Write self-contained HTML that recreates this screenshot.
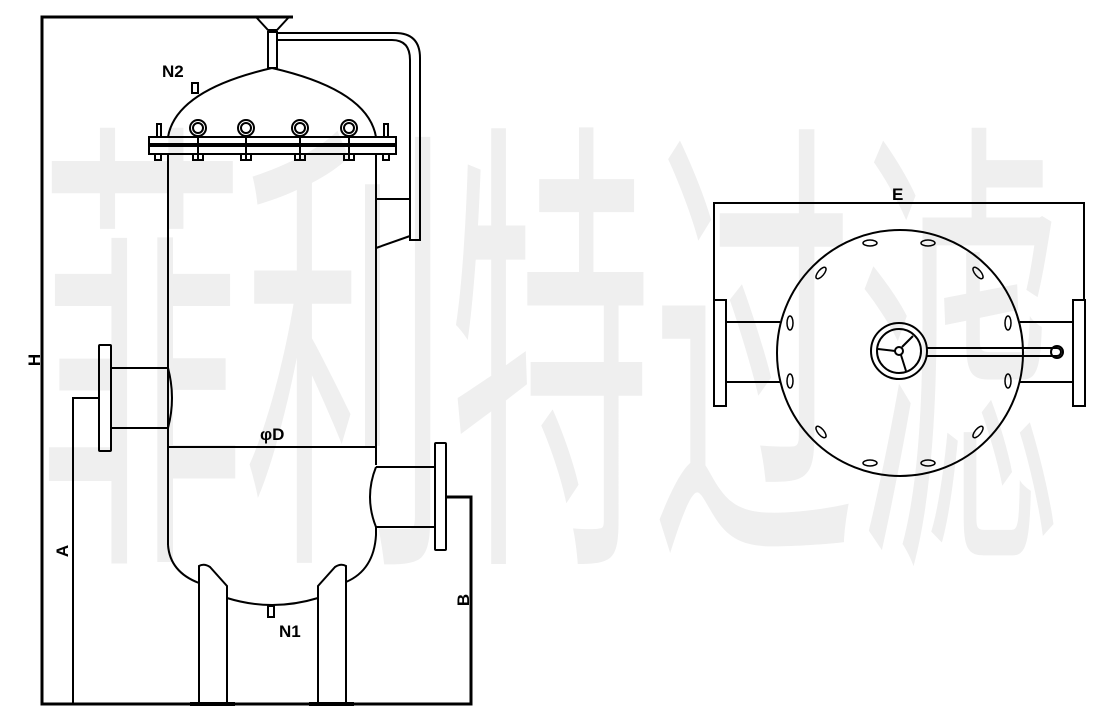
<!DOCTYPE html>
<html><head><meta charset="utf-8"><style>html,body{margin:0;padding:0;background:#fff}svg{display:block}</style></head>
<body>
<svg width="1100" height="721" viewBox="0 0 1100 721" xmlns="http://www.w3.org/2000/svg" font-family="Liberation Sans, sans-serif">
<text x="40" y="526" font-size="474" fill="#efefef" textLength="1020" lengthAdjust="spacingAndGlyphs" font-family="Liberation Sans, Noto Sans CJK SC, sans-serif">菲利特过滤</text>
<g fill="none" stroke="#000" stroke-width="2">
<polyline points="293,17 42,17 42,704 471,704 471,497 446,497" stroke-width="3"/>
<polyline points="73,704 73,398 99,398"/>
<rect x="99" y="345" width="12" height="106" rx="1"/>
<line x1="111" y1="368" x2="168" y2="368"/><line x1="111" y1="428" x2="168" y2="428"/>
<path d="M168,368 Q176,398 168,428"/>
<line x1="168" y1="153" x2="168" y2="545"/>
<line x1="376" y1="153" x2="376" y2="465"/>
<line x1="376" y1="527" x2="376" y2="535"/>
<line x1="168" y1="447" x2="376" y2="447"/>
<path d="M168,545 Q170,572 199,583"/>
<path d="M376,535 Q374,570 346,582"/>
<path d="M227,598 Q272,612 318,598"/>
<rect x="268" y="606" width="6" height="11"/>
<path d="M199,704 L199,566 Q204,563 210,567 L227,586 L227,704"/>
<path d="M346,704 L346,566 Q341,563 335,567 L318,586 L318,704"/>
<line x1="190" y1="704" x2="235" y2="704" stroke-width="4"/>
<line x1="309" y1="704" x2="354" y2="704" stroke-width="4"/>
<line x1="376" y1="467" x2="435" y2="467"/><line x1="376" y1="527" x2="435" y2="527"/>
<path d="M376,467 Q364,497 376,527"/>
<rect x="435" y="443" width="11" height="107" rx="1"/>
<path d="M168,137 Q176,90 272,68 Q368,90 376,137"/>
<rect x="192" y="83" width="6" height="10"/>
<rect x="149" y="137" width="247" height="17"/>
<line x1="149" y1="145" x2="396" y2="145" stroke-width="4"/>
<g>
<circle cx="198" cy="128" r="8"/><circle cx="198" cy="128" r="5"/><line x1="198" y1="136" x2="198" y2="160"/>
<circle cx="246" cy="128" r="8"/><circle cx="246" cy="128" r="5"/><line x1="246" y1="136" x2="246" y2="160"/>
<circle cx="300" cy="128" r="8"/><circle cx="300" cy="128" r="5"/><line x1="300" y1="136" x2="300" y2="160"/>
<circle cx="349" cy="128" r="8"/><circle cx="349" cy="128" r="5"/><line x1="349" y1="136" x2="349" y2="160"/>
<rect x="157" y="124" width="4" height="13"/><rect x="384" y="124" width="4" height="13"/>
<path d="M155,154 v6 h6 v-6 M193,154 v6 h10 v-6 M241,154 v6 h10 v-6 M295,154 v6 h10 v-6 M344,154 v6 h10 v-6 M383,154 v6 h6 v-6"/>
</g>
<rect x="268" y="32" width="9" height="36"/>
<path d="M256,17 L268,30 L277,30 L289,17"/>
<path d="M277,33 L395,33 Q420,33 420,58 L420,240 L410,240 L410,60 Q410,40 392,40 L277,40"/>
<line x1="376" y1="199" x2="410" y2="199"/>
<line x1="376" y1="248" x2="410" y2="236"/>
<polyline points="714,300 714,203 1084,203 1084,300"/>
<rect x="714" y="300" width="12" height="106"/>
<rect x="1073" y="300" width="12" height="106"/>
<line x1="726" y1="322" x2="780" y2="322"/><line x1="726" y1="382" x2="780" y2="382"/>
<line x1="1020" y1="322" x2="1073" y2="322"/><line x1="1020" y1="382" x2="1073" y2="382"/>
<circle cx="900" cy="353" r="123"/>
<circle cx="899" cy="351" r="28"/><circle cx="899" cy="351" r="22"/><circle cx="899" cy="351" r="4"/>
<line x1="895" y1="351" x2="878" y2="349"/><line x1="902" y1="347" x2="913" y2="336"/><line x1="901" y1="355" x2="906" y2="371"/>
<path d="M927,348 L1057,348 A4,4 0 0 1 1057,356 L927,356"/>
<circle cx="1057" cy="352" r="6"/>
<g stroke-width="1.5">
<ellipse cx="870" cy="243" rx="7" ry="3"/><ellipse cx="928" cy="243" rx="7" ry="3"/>
<ellipse cx="870" cy="463" rx="7" ry="3"/><ellipse cx="928" cy="463" rx="7" ry="3"/>
<ellipse cx="790" cy="323" rx="3" ry="7"/><ellipse cx="790" cy="381" rx="3" ry="7"/>
<ellipse cx="1008" cy="323" rx="3" ry="7"/><ellipse cx="1008" cy="381" rx="3" ry="7"/>
<ellipse cx="821" cy="273" rx="7" ry="3" transform="rotate(-50 821 273)"/>
<ellipse cx="978" cy="273" rx="7" ry="3" transform="rotate(50 978 273)"/>
<ellipse cx="821" cy="432" rx="7" ry="3" transform="rotate(50 821 432)"/>
<ellipse cx="978" cy="432" rx="7" ry="3" transform="rotate(-50 978 432)"/>
</g>
</g>
<g font-size="17" fill="#000" font-weight="bold">
<text x="162" y="77">N2</text>
<text x="279" y="637">N1</text>
<text x="260" y="440">φD</text>
<text x="892" y="200">E</text>
<text transform="translate(40,360) rotate(-90)" text-anchor="middle">H</text>
<text transform="translate(68,551) rotate(-90)" text-anchor="middle">A</text>
<text transform="translate(469,600) rotate(-90)" text-anchor="middle">B</text>
</g>
</svg>
</body></html>
